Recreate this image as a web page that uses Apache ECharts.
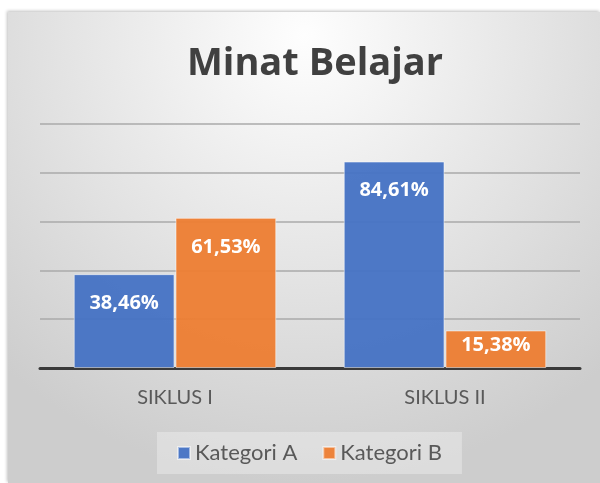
<!DOCTYPE html>
<html>
<head>
<meta charset="utf-8">
<script src="https://cdn.jsdelivr.net/npm/echarts@6/dist/echarts.min.js"></script>
<style>
  html, body { margin: 0; padding: 0; background: #fff; }
  #chart {
    position: absolute;
    left: 8px;
    top: 12px;
    width: 592px;
    height: 471px;
    box-shadow: -1px -1px 3px rgba(0, 0, 0, 0.25);
  }
</style>
</head>
<body>
<div id="chart"></div>
<script>
const categories = ['SIKLUS I', 'SIKLUS II']
const kategoriA = [38.46, 84.61]
const kategoriB = [61.53, 15.38]
const seriesNames = ['Kategori A', 'Kategori B']

const chart = echarts.init(document.getElementById('chart'))

function fmt(v) {
  return v.toFixed(2).replace('.', ',') + '%'
}

function barData(values) {
  // short bars get their label nearer the top edge, like the original
  return values.map(v => ({
    value: v,
    label: { distance: v < 20 ? 5 : 19 }
  }))
}

const barLabel = {
  show: true,
  position: 'insideTop',
  color: '#fff',
  fontFamily: 'Open Sans',
  fontWeight: 'bold',
  fontSize: 20,
  formatter: p => fmt(p.value)
}

const option = {
  backgroundColor: {
    type: 'radial',
    x: 0.5,
    y: 0.05,
    r: 0.95,
    colorStops: [
      { offset: 0, color: '#fefefe' },
      { offset: 1, color: '#cdcdcd' }
    ]
  },
  textStyle: { fontFamily: 'Lato' },
  title: {
    text: 'Minat Belajar',
    left: 302,
    textAlign: 'center',
    top: 28,
    textStyle: {
      fontFamily: 'Open Sans',
      fontSize: 38,
      fontWeight: 'bold',
      color: '#404040'
    }
  },
  legend: {
    data: seriesNames,
    left: 149,
    top: 420,
    itemWidth: 12,
    itemHeight: 12,
    itemGap: 25,
    padding: [10, 20],
    backgroundColor: 'rgba(255, 255, 255, 0.3)',
    icon: 'rect',
    textStyle: {
      fontFamily: 'Lato',
      fontSize: 22,
      color: '#595959'
    }
  },
  grid: {
    left: 32,
    top: 112,
    width: 540,
    height: 244,
    containLabel: false
  },
  xAxis: {
    type: 'category',
    data: categories,
    axisTick: { show: false },
    axisLine: { lineStyle: { color: '#3a3a3a', width: 3 } },
    axisLabel: {
      margin: 20,
      fontFamily: 'Lato',
      fontSize: 20,
      color: '#595959'
    }
  },
  yAxis: {
    type: 'value',
    min: 0,
    max: 100,
    interval: 20,
    axisLabel: { show: false },
    axisLine: { show: false },
    axisTick: { show: false },
    splitLine: { lineStyle: { color: '#aaaaaa', width: 1.5 } }
  },
  series: [
    {
      name: seriesNames[0],
      type: 'bar',
      data: barData(kategoriA),
      barGap: '1%',
      barCategoryGap: '25%',
      itemStyle: {
        color: 'rgba(68, 114, 196, 0.95)',
        borderColor: 'rgba(255, 255, 255, 0.5)',
        borderWidth: 1
      },
      label: barLabel
    },
    {
      name: seriesNames[1],
      type: 'bar',
      data: barData(kategoriB),
      itemStyle: {
        color: 'rgba(237, 125, 49, 0.95)',
        borderColor: 'rgba(255, 255, 255, 0.5)',
        borderWidth: 1
      },
      label: barLabel
    }
  ]
}

chart.setOption(option)
</script>
</body>
</html>
